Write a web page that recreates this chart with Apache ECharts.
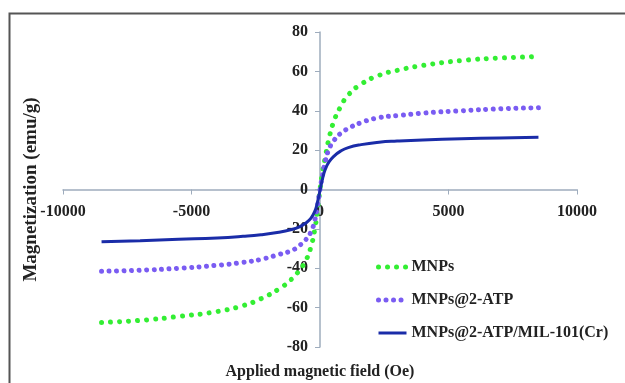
<!DOCTYPE html>
<html>
<head>
<meta charset="utf-8">
<script src="https://cdn.jsdelivr.net/npm/echarts@6/dist/echarts.min.js"></script>
<style>
  html, body { margin: 0; padding: 0; background: #fff; }
  #chart { width: 625px; height: 383px; }
</style>
</head>
<body>
<div id="chart"></div>
<script>
// applied field (Oe)
const fields = [-8500, -7000, -5500, -4000, -3000, -2300, -1600, -1100, -800, -550, -350, -200, -100, 0,
  100, 200, 350, 550, 800, 1100, 1600, 2300, 3000, 4000, 5500, 7000, 8500]

// magnetization (emu/g)
const mnps = [-67.5, -66.5, -64.5, -62, -59, -55.5, -50.5, -45.5, -41, -36, -29, -20, -11, 0,
  9, 16, 26, 35, 42, 48, 53.5, 58, 60.5, 63, 65.5, 66.8, 67.5]
const mnpsAtp = [-41.5, -41, -40, -38.5, -37, -35.5, -33, -31, -28.5, -25.5, -21.5, -15.5, -8.5, 0,
  7.5, 14, 20.5, 25, 28.5, 31, 34, 36.5, 37.5, 38.8, 40, 41, 41.5]
const mnpsAtpMil = [-26.5, -26, -25.3, -24.6, -23.8, -23, -21.7, -20.3, -19, -17, -14.5, -11, -6.5, -0.5,
  5.5, 10, 14, 17, 19.5, 21.3, 22.8, 24, 24.6, 25.2, 25.8, 26.2, 26.5]

const seriesNames = ['MNPs', 'MNPs@2-ATP', 'MNPs@2-ATP/MIL-101(Cr)']

const pairs = (ys) => fields.map((x, i) => [x, ys[i]])

const font = '"Liberation Serif", "Times New Roman", serif'
const axisColor = '#9eacbd'
const boldText = { fontFamily: font, fontSize: 16, fontWeight: 'bold', color: '#222' }

const chart = echarts.init(document.getElementById('chart'))

// axes cross at the origin: shift them in from the grid edges
const gridLeft = 63, gridTop = 32, gridW = 625 - 63 - 48, gridH = 383 - 32 - 36
const xAxisOffset = -gridH / 2
const yAxisOffset = -gridW / 2

chart.setOption({
  backgroundColor: '#fff',
  animation: false,
  textStyle: { fontFamily: font },
  graphic: [
    {
      type: 'rect',
      shape: { x: 9.5, y: 13.5, width: 700, height: 400 },
      style: { fill: 'none', stroke: '#555', lineWidth: 2 },
      silent: true,
    },
  ],
  grid: { left: gridLeft, right: 48, top: gridTop, bottom: 36, outerBoundsMode: 'none', containLabel: false },
  legend: {
    orient: 'vertical',
    left: 376,
    top: 259,
    padding: 0,
    itemWidth: 28,
    itemHeight: 10,
    itemGap: 17,
    textStyle: boldText,
    itemStyle: { opacity: 0 },
    data: [
      { name: seriesNames[0], lineStyle: { width: 5 } },
      { name: seriesNames[1], lineStyle: { width: 5 } },
      { name: seriesNames[2], lineStyle: { width: 3 } },
    ],
  },
  xAxis: {
    type: 'value',
    min: -10000,
    max: 10000,
    interval: 5000,
    offset: xAxisOffset,
    name: 'Applied magnetic field (Oe)',
    nameLocation: 'middle',
    nameGap: 174,
    nameTextStyle: boldText,
    axisLine: { onZero: false, lineStyle: { color: axisColor, width: 1.5 } },
    axisTick: { show: true, length: 5, lineStyle: { color: axisColor } },
    axisLabel: { ...boldText, margin: 14, formatter: (v) => String(v) },
    splitLine: { show: false },
  },
  yAxis: {
    type: 'value',
    min: -80,
    max: 80,
    interval: 20,
    offset: yAxisOffset,
    name: 'Magnetization (emu/g)',
    nameLocation: 'middle',
    nameGap: 279,
    nameTextStyle: { ...boldText, fontSize: 19 },
    axisLine: { onZero: false, lineStyle: { color: axisColor, width: 1.5 } },
    axisTick: { show: true, length: 5, lineStyle: { color: axisColor } },
    axisLabel: { ...boldText, margin: 12, formatter: (v) => String(v) },
    splitLine: { show: false },
  },
  series: [
    {
      name: seriesNames[0],
      type: 'line',
      smooth: true,
      symbol: 'none',
      data: pairs(mnps),
      itemStyle: { color: '#33ee33' },
      lineStyle: { color: '#33ee33', width: 5, type: [0.01, 9], cap: 'round' },
      z: 3,
    },
    {
      name: seriesNames[1],
      type: 'line',
      smooth: true,
      symbol: 'none',
      data: pairs(mnpsAtp),
      itemStyle: { color: '#7a5cf2' },
      lineStyle: { color: '#7a5cf2', width: 5, type: [0.01, 7.5], cap: 'round' },
      z: 4,
    },
    {
      name: seriesNames[2],
      type: 'line',
      smooth: true,
      symbol: 'none',
      data: pairs(mnpsAtpMil),
      itemStyle: { color: '#1a2ca8' },
      lineStyle: { color: '#1a2ca8', width: 3 },
      z: 5,
    },
  ],
})
</script>
</body>
</html>
